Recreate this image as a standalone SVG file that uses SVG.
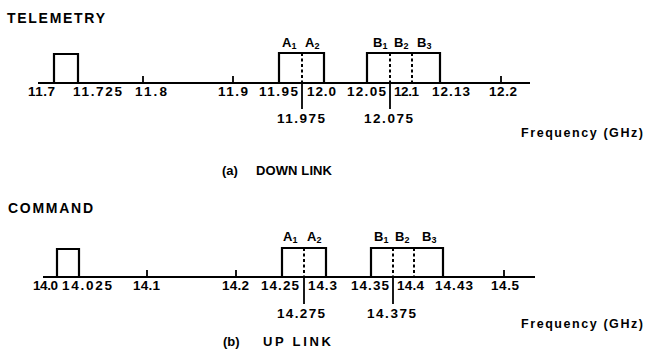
<svg xmlns="http://www.w3.org/2000/svg" width="647" height="351" viewBox="0 0 647 351">
<style>
text{font-family:"Liberation Sans",Arial,sans-serif;font-weight:bold;fill:#000}
.t{font-size:14px}
.n{font-size:13.5px}
.c{font-size:13px}
.s{font-size:9px}
.f{font-size:12.5px}
.ax{stroke:#000;stroke-width:1.8;fill:none}
.bx{stroke:#000;stroke-width:2.2;fill:none}
.dl{stroke:#000;stroke-width:2;stroke-dasharray:3 2.5;fill:none}
.ln{stroke:#000;stroke-width:1.8;fill:none}
</style>
<rect width="647" height="351" fill="#fff"/>

<!-- ===== (a) DOWN LINK ===== -->
<text id="title-a" class="t" x="7" y="23" textLength="98" lengthAdjust="spacing">TELEMETRY</text>

<g id="connectors">
  <!-- top axis -->
  <line class="ax" x1="38" y1="83" x2="530" y2="83"/>
  <line class="ax" x1="143" y1="83" x2="143" y2="76"/>
  <line class="ax" x1="233" y1="83" x2="233" y2="76"/>
  <line class="ax" x1="501" y1="83" x2="501" y2="76"/>
  <line class="ln" x1="302" y1="83" x2="302" y2="109"/>
  <line class="ln" x1="390" y1="83" x2="390" y2="109"/>
  <!-- bottom axis -->
  <line class="ax" x1="43" y1="277" x2="535" y2="277"/>
  <line class="ax" x1="147" y1="277" x2="147" y2="270"/>
  <line class="ax" x1="236" y1="277" x2="236" y2="270"/>
  <line class="ax" x1="504" y1="277" x2="504" y2="270"/>
  <line class="ln" x1="304" y1="277" x2="304" y2="304"/>
  <line class="ln" x1="393" y1="277" x2="393" y2="304"/>
</g>

<g id="tele-box">
  <polyline class="bx" points="54,83 54,54 78,54 78,83"/>
</g>
<g id="tele-A">
  <polyline class="bx" points="279,83 279,53 324,53 324,83"/>
  <line class="dl" x1="302" y1="53" x2="302" y2="83"/>
  <text class="c" x="282" y="47">A<tspan class="s" dy="2">1</tspan></text>
  <text class="c" x="305" y="47">A<tspan class="s" dy="2">2</tspan></text>
</g>
<g id="tele-B">
  <polyline class="bx" points="367,83 367,53 440,53 440,83"/>
  <line class="dl" x1="390" y1="53" x2="390" y2="83"/>
  <line class="dl" x1="412" y1="53" x2="412" y2="83"/>
  <text class="c" x="373" y="47">B<tspan class="s" dy="2">1</tspan></text>
  <text class="c" x="394" y="47">B<tspan class="s" dy="2">2</tspan></text>
  <text class="c" x="417" y="47">B<tspan class="s" dy="2">3</tspan></text>
</g>

<g id="tele-labels">
  <text class="n" x="28" y="96" textLength="27" lengthAdjust="spacing">11.7</text>
  <text class="n" x="73" y="96" textLength="49" lengthAdjust="spacing">11.725</text>
  <text class="n" x="135" y="96" textLength="32" lengthAdjust="spacing">11.8</text>
  <text class="n" x="218" y="96" textLength="30" lengthAdjust="spacing">11.9</text>
  <text class="n" x="259" y="96" textLength="39" lengthAdjust="spacing">11.95</text>
  <text class="n" x="307" y="96" textLength="29" lengthAdjust="spacing">12.0</text>
  <text class="n" x="347" y="96" textLength="39" lengthAdjust="spacing">12.05</text>
  <text class="n" x="394" y="96" textLength="25" lengthAdjust="spacing">12.1</text>
  <text class="n" x="432" y="96" textLength="38" lengthAdjust="spacing">12.13</text>
  <text class="n" x="489" y="96" textLength="28" lengthAdjust="spacing">12.2</text>
  <text class="n" x="277" y="123" textLength="48" lengthAdjust="spacing">11.975</text>
  <text class="n" x="364" y="123" textLength="49" lengthAdjust="spacing">12.075</text>
  <text class="f" x="521" y="137" textLength="122" lengthAdjust="spacing">Frequency (GHz)</text>
  <text class="c" x="222" y="175">(a)</text>
  <text class="c" x="256" y="175" textLength="76" lengthAdjust="spacing">DOWN LINK</text>
</g>

<!-- ===== (b) UP LINK ===== -->
<text id="title-b" class="t" x="8" y="213" textLength="85" lengthAdjust="spacing">COMMAND</text>

<g id="cmd-box">
  <polyline class="bx" points="57,277 57,249 79,249 79,277"/>
</g>
<g id="cmd-A">
  <polyline class="bx" points="282,277 282,248 326,248 326,277"/>
  <line class="dl" x1="304" y1="248" x2="304" y2="277"/>
  <text class="c" x="283" y="241">A<tspan class="s" dy="2">1</tspan></text>
  <text class="c" x="307" y="241">A<tspan class="s" dy="2">2</tspan></text>
</g>
<g id="cmd-B">
  <polyline class="bx" points="371,277 371,248 443,248 443,277"/>
  <line class="dl" x1="393" y1="248" x2="393" y2="277"/>
  <line class="dl" x1="414" y1="248" x2="414" y2="277"/>
  <text class="c" x="374" y="241">B<tspan class="s" dy="2">1</tspan></text>
  <text class="c" x="395" y="241">B<tspan class="s" dy="2">2</tspan></text>
  <text class="c" x="422" y="241">B<tspan class="s" dy="2">3</tspan></text>
</g>

<g id="cmd-labels">
  <text class="n" x="33" y="290" textLength="25" lengthAdjust="spacing">14.0</text>
  <text class="n" x="62" y="290" textLength="50" lengthAdjust="spacing">14.025</text>
  <text class="n" x="133" y="290" textLength="27" lengthAdjust="spacing">14.1</text>
  <text class="n" x="222" y="290" textLength="27" lengthAdjust="spacing">14.2</text>
  <text class="n" x="261" y="290" textLength="38" lengthAdjust="spacing">14.25</text>
  <text class="n" x="308" y="290" textLength="29" lengthAdjust="spacing">14.3</text>
  <text class="n" x="351" y="290" textLength="38" lengthAdjust="spacing">14.35</text>
  <text class="n" x="397" y="290" textLength="27" lengthAdjust="spacing">14.4</text>
  <text class="n" x="435" y="290" textLength="38" lengthAdjust="spacing">14.43</text>
  <text class="n" x="491" y="290" textLength="28" lengthAdjust="spacing">14.5</text>
  <text class="n" x="277" y="318" textLength="48" lengthAdjust="spacing">14.275</text>
  <text class="n" x="367" y="318" textLength="49" lengthAdjust="spacing">14.375</text>
  <text class="f" x="521" y="328" textLength="122" lengthAdjust="spacing">Frequency (GHz)</text>
  <text class="c" x="223" y="346">(b)</text>
  <text class="c" x="263" y="346" textLength="68" lengthAdjust="spacing">UP LINK</text>
</g>
</svg>
